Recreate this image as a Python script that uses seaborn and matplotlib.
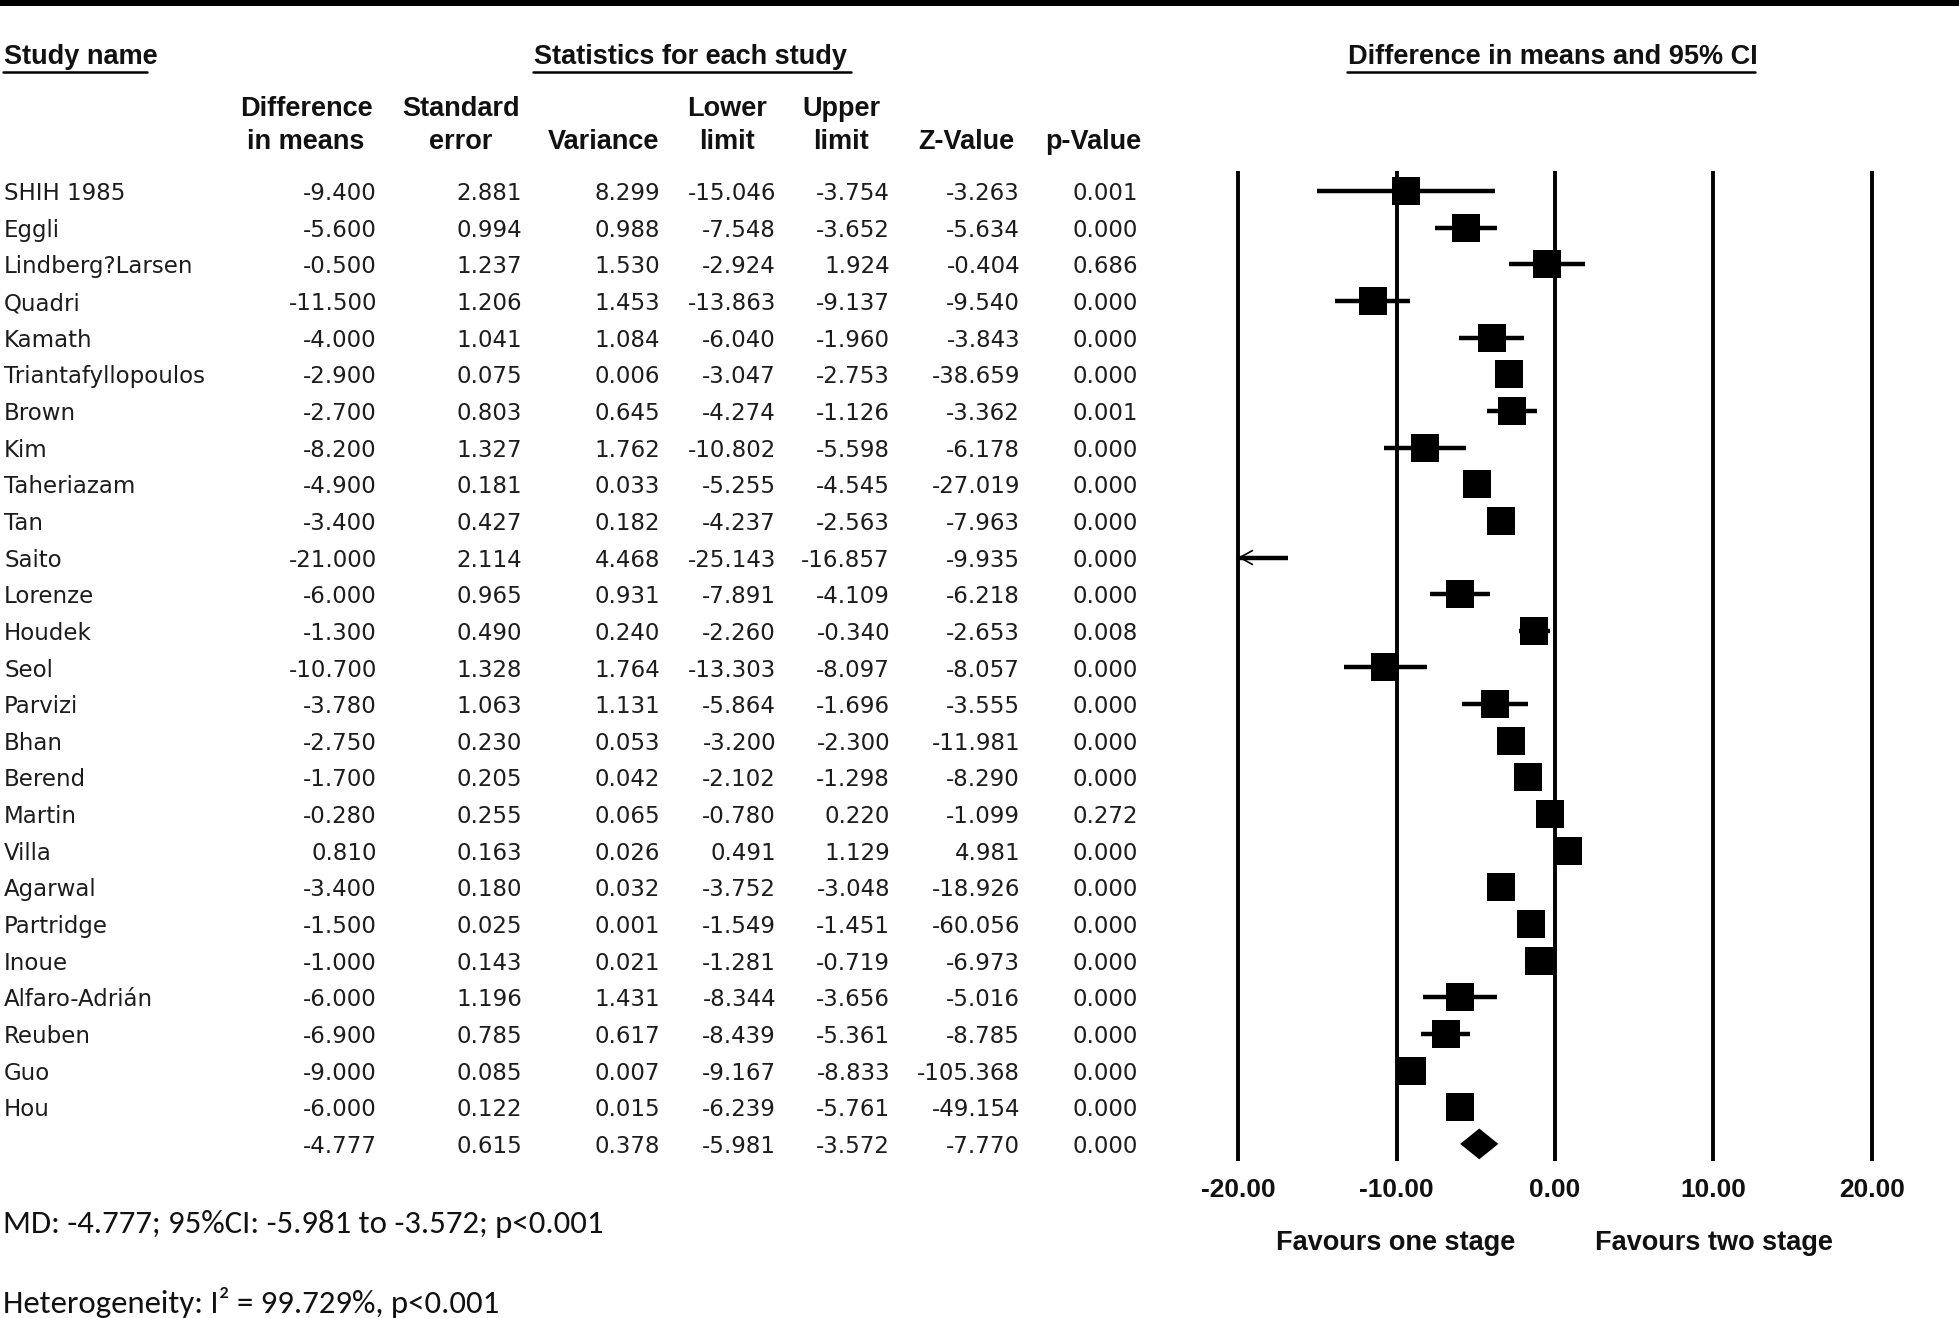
import numpy as np
import pandas as pd
import matplotlib
matplotlib.use('Agg')
import matplotlib.pyplot as plt
import seaborn as sns
from matplotlib import font_manager
from matplotlib.patches import Rectangle
from matplotlib.lines import Line2D
from matplotlib.transforms import blended_transform_factory

# data
studies = ["SHIH 1985", "Eggli", "Lindberg?Larsen", "Quadri", "Kamath",
           "Triantafyllopoulos", "Brown", "Kim", "Taheriazam", "Tan", "Saito",
           "Lorenze", "Houdek", "Seol", "Parvizi", "Bhan", "Berend", "Martin",
           "Villa", "Agarwal", "Partridge", "Inoue", "Alfaro-Adrián", "Reuben",
           "Guo", "Hou"]
diff = [-9.400, -5.600, -0.500, -11.500, -4.000, -2.900, -2.700, -8.200, -4.900,
        -3.400, -21.000, -6.000, -1.300, -10.700, -3.780, -2.750, -1.700, -0.280,
        0.810, -3.400, -1.500, -1.000, -6.000, -6.900, -9.000, -6.000]
std_err = [2.881, 0.994, 1.237, 1.206, 1.041, 0.075, 0.803, 1.327, 0.181, 0.427,
           2.114, 0.965, 0.490, 1.328, 1.063, 0.230, 0.205, 0.255, 0.163, 0.180,
           0.025, 0.143, 1.196, 0.785, 0.085, 0.122]
variance = [8.299, 0.988, 1.530, 1.453, 1.084, 0.006, 0.645, 1.762, 0.033, 0.182,
            4.468, 0.931, 0.240, 1.764, 1.131, 0.053, 0.042, 0.065, 0.026, 0.032,
            0.001, 0.021, 1.431, 0.617, 0.007, 0.015]
lower = [-15.046, -7.548, -2.924, -13.863, -6.040, -3.047, -4.274, -10.802, -5.255,
         -4.237, -25.143, -7.891, -2.260, -13.303, -5.864, -3.200, -2.102, -0.780,
         0.491, -3.752, -1.549, -1.281, -8.344, -8.439, -9.167, -6.239]
upper = [-3.754, -3.652, 1.924, -9.137, -1.960, -2.753, -1.126, -5.598, -4.545,
         -2.563, -16.857, -4.109, -0.340, -8.097, -1.696, -2.300, -1.298, 0.220,
         1.129, -3.048, -1.451, -0.719, -3.656, -5.361, -8.833, -5.761]
z_value = [-3.263, -5.634, -0.404, -9.540, -3.843, -38.659, -3.362, -6.178, -27.019,
           -7.963, -9.935, -6.218, -2.653, -8.057, -3.555, -11.981, -8.290, -1.099,
           4.981, -18.926, -60.056, -6.973, -5.016, -8.785, -105.368, -49.154]
p_value = [0.001, 0.000, 0.686, 0.000, 0.000, 0.000, 0.001, 0.000, 0.000, 0.000,
           0.000, 0.000, 0.008, 0.000, 0.000, 0.000, 0.000, 0.272, 0.000, 0.000,
           0.000, 0.000, 0.000, 0.000, 0.000, 0.000]
summary = {"diff": -4.777, "se": 0.615, "var": 0.378, "lower": -5.981,
           "upper": -3.572, "z": -7.770, "p": 0.000}
x_ticks = [-20, -10, 0, 10, 20]

df = pd.DataFrame({"study": studies, "diff": diff, "se": std_err, "var": variance,
                   "lower": lower, "upper": upper, "z": z_value, "p": p_value})
df["row"] = np.arange(len(df))
sum_row = len(df)

# fonts
sns.set_style("white")
names = {f.name for f in font_manager.fontManager.ttflist}
calib = "Carlito" if "Carlito" in names else "Lato"
plt.rcParams["font.family"] = ["DejaVu Sans"]
head_font = "Liberation Sans"

W, H = 1959, 1318
fig = plt.figure(figsize=(W / 100, H / 100), dpi=100)

# forest axes, pixel layout
px_per_unit = (1871.6 - 1238.2) / 40
zero_x = 1554.9
xmin, xmax = -21, 21
left = zero_x + xmin * px_per_unit
right = zero_x + xmax * px_per_unit
top, bottom = 171, 1161
row0, row_gap = 191, 36.65
ax = fig.add_axes([left / W, 1 - bottom / H, (right - left) / W, (bottom - top) / H])
ax.set_xlim(xmin, xmax)
ax.set_ylim((bottom - row0) / row_gap, (top - row0) / row_gap)
for s in ax.spines.values():
    s.set_visible(False)
ax.set_yticks([])
ax.set_xticks(x_ticks)
ax.set_xticklabels([f"{t:.2f}" for t in x_ticks], fontfamily=head_font,
                   fontweight="bold", fontsize=19, color="#111111")
ax.tick_params(axis="x", length=0, pad=12)

for t in x_ticks:
    ax.axvline(t, color="black", lw=2.8, zorder=1)

# CI lines (clipped at the plot edge)
lo = df["lower"].clip(-20, 20)
hi = df["upper"].clip(-20, 20)
ax.hlines(df["row"], lo, hi, color="black", lw=3.2, zorder=2)
for _, r in df[df["lower"] < -20].iterrows():
    ax.annotate("", xy=(-20, r["row"]), xytext=(-19.0, r["row"]),
                arrowprops=dict(arrowstyle="->,head_length=0.9,head_width=0.5",
                                lw=1.2, color="black", shrinkA=0, shrinkB=0),
                zorder=3)

inside = df[(df["diff"] >= -20) & (df["diff"] <= 20)]
sns.scatterplot(data=inside, x="diff", y="row", marker="s", s=390, color="black",
                edgecolor="black", linewidth=0, ax=ax, zorder=3, legend=False)
ax.set_xlabel("")
ax.set_ylabel("")

# summary diamond
d = 0.42
ax.fill([summary["lower"], summary["diff"], summary["upper"], summary["diff"]],
        [sum_row, sum_row - d, sum_row, sum_row + d], color="black", lw=0, zorder=3)

# table text
tr = blended_transform_factory(fig.transFigure, ax.transData)
dy = 0.07
txt = dict(fontsize=16.5, color="#1c1c1c", va="center", transform=tr,
           fontfamily="DejaVu Sans")
col_right = [377, 522, 660, 776, 890, 1020, 1138]
cols = ["diff", "se", "var", "lower", "upper", "z", "p"]
for _, r in df.iterrows():
    fig.text(4 / W, r["row"] + dy, r["study"], ha="left", **txt)
    for c, xr in zip(cols, col_right):
        fig.text(xr / W, r["row"] + dy, f"{r[c]:.3f}", ha="right", **txt)
for c, xr in zip(cols, col_right):
    fig.text(xr / W, sum_row + dy, f"{summary[c]:.3f}", ha="right", **txt)

# headers
hdr = dict(fontfamily=head_font, fontweight="bold", fontsize=19.5, color="#111111",
           va="center")
fig.text(4 / W, 1 - 57 / H, "Study name", ha="left", **hdr)
fig.text(691 / W, 1 - 57 / H, "Statistics for each study", ha="center", **hdr)
fig.text(1553 / W, 1 - 57 / H, "Difference in means and 95% CI", ha="center", **hdr)
for x0, x1 in [(3, 147), (533, 851), (1347, 1755)]:
    fig.add_artist(Line2D([x0 / W, x1 / W], [1 - 72 / H, 1 - 72 / H],
                          transform=fig.transFigure, color="black", lw=1.8))

col_heads = [(306, "Difference", "in means"), (461, "Standard", "error"),
             (603, "", "Variance"), (727, "Lower", "limit"), (841, "Upper", "limit"),
             (966, "", "Z-Value"), (1093, "", "p-Value")]
for xc, l1, l2 in col_heads:
    fig.text(xc / W, 1 - 109 / H, l1, ha="center", **hdr)
    fig.text(xc / W, 1 - 142 / H, l2, ha="center", **hdr)

fig.text(1396 / W, 1 - 1243 / H, "Favours one stage", ha="center", **hdr)
fig.text(1714 / W, 1 - 1243 / H, "Favours two stage", ha="center", **hdr)

# top rule
fig.add_artist(Rectangle((0, 1 - 6 / H), 1, 6 / H, transform=fig.transFigure,
                         color="black", lw=0))

# footnotes
foot = dict(fontfamily=calib, fontsize=23.6, color="#111111", va="center", ha="left")
fig.text(3 / W, 1 - 1224 / H, "MD: -4.777; 95%CI: -5.981 to -3.572; p<0.001", **foot)
fig.text(3 / W, 1 - 1302 / H, "Heterogeneity: I\u00b2 = 99.729%, p<0.001", **foot)

fig.savefig("out.png", dpi=100)
